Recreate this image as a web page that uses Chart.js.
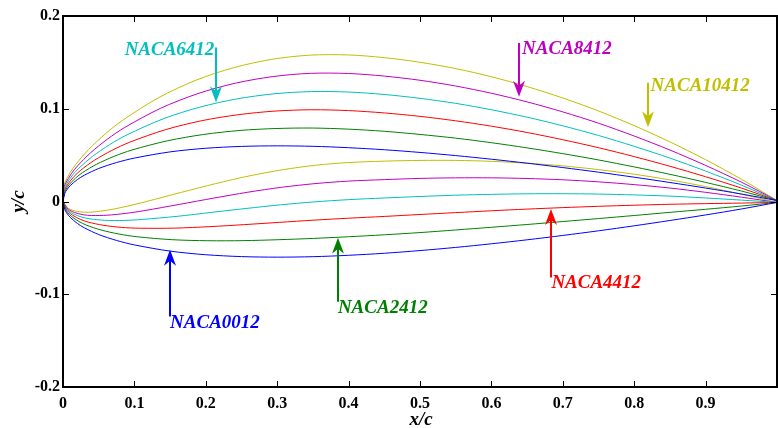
<!DOCTYPE html>
<html><head><meta charset="utf-8">
<script src="https://cdn.jsdelivr.net/npm/chart.js@4/dist/chart.umd.min.js"></script>
<style>html,body{margin:0;padding:0;background:#fff}#wrap{width:778px;height:428px;position:relative}</style>
</head><body><div id="wrap"><canvas id="c" width="778" height="428"></canvas></div>
<script>
// ---- data (x/c, y/c) ----
// aft stations shared by all surfaces
const aftX = [0.4, 0.45, 0.5, 0.55, 0.6, 0.65, 0.7, 0.75, 0.8, 0.85, 0.9, 0.95, 1.0];

const naca0012UpperX = [0, 0.0025, 0.005, 0.01, 0.02, 0.03, 0.05, 0.075, 0.1, 0.15, 0.2, 0.25, 0.3, 0.35];
const naca0012UpperY = [0, 0.0087, 0.0122, 0.0170, 0.0236, 0.0284, 0.0356, 0.0420, 0.0468, 0.0535, 0.0574, 0.0594, 0.0600, 0.0595, 0.0580, 0.0558, 0.0529, 0.0495, 0.0456, 0.0413, 0.0366, 0.0316, 0.0262, 0.0205, 0.0145, 0.0081, 0.001];
const naca0012LowerX = [0, 0.0025, 0.005, 0.01, 0.02, 0.03, 0.05, 0.075, 0.1, 0.15, 0.2, 0.25, 0.3, 0.35];
const naca0012LowerY = [0, -0.0087, -0.0122, -0.0170, -0.0236, -0.0284, -0.0356, -0.0420, -0.0468, -0.0535, -0.0574, -0.0594, -0.0600, -0.0595, -0.0580, -0.0558, -0.0529, -0.0495, -0.0456, -0.0413, -0.0366, -0.0316, -0.0262, -0.0205, -0.0145, -0.0081, -0.001];

const naca2412UpperX = [0, 0.0016, 0.0038, 0.0084, 0.0178, 0.0274, 0.0469, 0.0716, 0.0965, 0.1467, 0.1971, 0.2478, 0.2985, 0.3493];
const naca2412UpperY = [0, 0.0089, 0.0127, 0.0180, 0.0254, 0.0312, 0.0401, 0.0487, 0.0555, 0.0655, 0.0723, 0.0766, 0.0787, 0.0792, 0.0780, 0.0757, 0.0723, 0.0683, 0.0634, 0.0578, 0.0516, 0.0448, 0.0373, 0.0293, 0.0206, 0.0113, 0.001];
const naca2412LowerX = [0, 0.0034, 0.0062, 0.0117, 0.0222, 0.0326, 0.0531, 0.0784, 0.1035, 0.1533, 0.2029, 0.2522, 0.3015, 0.3507];
const naca2412LowerY = [0, -0.0084, -0.0117, -0.0160, -0.0215, -0.0254, -0.0307, -0.0351, -0.0380, -0.0412, -0.0423, -0.0422, -0.0412, -0.0398, -0.0380, -0.0359, -0.0335, -0.0307, -0.0278, -0.0248, -0.0216, -0.0184, -0.0151, -0.0117, -0.0084, -0.0049, -0.001];

const naca4412UpperX = [0, 0.0008, 0.0026, 0.0067, 0.0156, 0.0248, 0.0439, 0.0683, 0.0931, 0.1434, 0.1943, 0.2456, 0.2970, 0.3485];
const naca4412UpperY = [0, 0.0091, 0.0130, 0.0187, 0.0271, 0.0337, 0.0444, 0.0550, 0.0638, 0.0774, 0.0871, 0.0936, 0.0975, 0.0989, 0.0980, 0.0955, 0.0918, 0.0870, 0.0812, 0.0744, 0.0666, 0.0580, 0.0484, 0.0380, 0.0267, 0.0145, 0.001];
const naca4412LowerX = [0, 0.0042, 0.0074, 0.0133, 0.0244, 0.0352, 0.0561, 0.0817, 0.1069, 0.1566, 0.2057, 0.2544, 0.3030, 0.3515];
const naca4412LowerY = [0, -0.0081, -0.0110, -0.0147, -0.0193, -0.0222, -0.0256, -0.0279, -0.0288, -0.0287, -0.0271, -0.0249, -0.0225, -0.0201, -0.0180, -0.0161, -0.0140, -0.0120, -0.0100, -0.0082, -0.0066, -0.0052, -0.0040, -0.0030, -0.0023, -0.0017, -0.001];

const naca6412UpperX = [0, 0.0000, 0.0015, 0.0052, 0.0135, 0.0224, 0.0410, 0.0651, 0.0897, 0.1402, 0.1915, 0.2434, 0.2955, 0.3478];
const naca6412UpperY = [0, 0.0091, 0.0132, 0.0193, 0.0286, 0.0360, 0.0484, 0.0612, 0.0719, 0.0891, 0.1017, 0.1106, 0.1161, 0.1185, 0.1180, 0.1154, 0.1112, 0.1058, 0.0989, 0.0909, 0.0816, 0.0712, 0.0595, 0.0468, 0.0328, 0.0177, 0.001];
const naca6412LowerX = [0, 0.0050, 0.0085, 0.0148, 0.0265, 0.0376, 0.0590, 0.0850, 0.1103, 0.1599, 0.2085, 0.2566, 0.3045, 0.3522];
const naca6412LowerY = [0, -0.0076, -0.0102, -0.0134, -0.0169, -0.0187, -0.0203, -0.0204, -0.0194, -0.0160, -0.0117, -0.0075, -0.0036, -0.0004, 0.0020, 0.0038, 0.0054, 0.0068, 0.0077, 0.0083, 0.0084, 0.0080, 0.0071, 0.0058, 0.0038, 0.0015, -0.001];

const naca8412UpperX = [0, -0.0007, 0.0005, 0.0038, 0.0116, 0.0202, 0.0383, 0.0620, 0.0866, 0.1370, 0.1888, 0.2412, 0.2940, 0.3470];
const naca8412UpperY = [0, 0.0091, 0.0134, 0.0198, 0.0299, 0.0382, 0.0523, 0.0671, 0.0799, 0.1006, 0.1163, 0.1275, 0.1347, 0.1382, 0.1380, 0.1352, 0.1307, 0.1245, 0.1167, 0.1074, 0.0966, 0.0844, 0.0706, 0.0555, 0.0389, 0.0209, 0.001];
const naca8412LowerX = [0, 0.0057, 0.0095, 0.0162, 0.0284, 0.0399, 0.0617, 0.0880, 0.1135, 0.1630, 0.2113, 0.2588, 0.3060, 0.3530];
const naca8412LowerY = [0, -0.0071, -0.0094, -0.0119, -0.0143, -0.0151, -0.0148, -0.0128, -0.0099, -0.0031, 0.0037, 0.0100, 0.0153, 0.0193, 0.0220, 0.0236, 0.0249, 0.0255, 0.0255, 0.0248, 0.0234, 0.0212, 0.0182, 0.0145, 0.0099, 0.0047, -0.001];

const naca10412UpperX = [0, -0.0014, -0.0004, 0.0025, 0.0099, 0.0181, 0.0358, 0.0592, 0.0836, 0.1341, 0.1861, 0.2391, 0.2926, 0.3463];
const naca10412UpperY = [0, 0.0091, 0.0134, 0.0203, 0.0311, 0.0402, 0.0560, 0.0729, 0.0876, 0.1120, 0.1307, 0.1443, 0.1533, 0.1578, 0.1580, 0.1551, 0.1501, 0.1433, 0.1345, 0.1239, 0.1116, 0.0976, 0.0818, 0.0643, 0.0451, 0.0241, 0.001];
const naca10412LowerX = [0, 0.0064, 0.0104, 0.0175, 0.0301, 0.0419, 0.0642, 0.0908, 0.1164, 0.1659, 0.2139, 0.2609, 0.3074, 0.3537];
const naca10412LowerY = [0, -0.0066, -0.0085, -0.0104, -0.0116, -0.0113, -0.0091, -0.0049, -0.0001, 0.0099, 0.0193, 0.0276, 0.0342, 0.0391, 0.0420, 0.0435, 0.0443, 0.0443, 0.0433, 0.0413, 0.0384, 0.0344, 0.0294, 0.0233, 0.0161, 0.0079, -0.001];

const airfoilNames = ['NACA0012', 'NACA2412', 'NACA4412', 'NACA6412', 'NACA8412', 'NACA10412'];
const airfoilColors = ['#0000FF', '#008000', '#FF0000', '#00BFBF', '#BF00BF', '#BFBF00'];
const surfaces = [
  [[naca0012UpperX, naca0012UpperY], [naca0012LowerX, naca0012LowerY]],
  [[naca2412UpperX, naca2412UpperY], [naca2412LowerX, naca2412LowerY]],
  [[naca4412UpperX, naca4412UpperY], [naca4412LowerX, naca4412LowerY]],
  [[naca6412UpperX, naca6412UpperY], [naca6412LowerX, naca6412LowerY]],
  [[naca8412UpperX, naca8412UpperY], [naca8412LowerX, naca8412LowerY]],
  [[naca10412UpperX, naca10412UpperY], [naca10412LowerX, naca10412LowerY]]
];

const xTicks = [0, 0.1, 0.2, 0.3, 0.4, 0.5, 0.6, 0.7, 0.8, 0.9];
const yTicks = [-0.2, -0.1, 0, 0.1, 0.2];

// labels with arrows (data coordinates)
const labelArrows = [
  {i: 3, x: 0.214, y0: 0.166, y1: 0.107, tx: 0.212, ty: 0.158, align: 'right'},
  {i: 4, x: 0.639, y0: 0.171, y1: 0.113, tx: 0.643, ty: 0.159, align: 'left'},
  {i: 5, x: 0.819, y0: 0.128, y1: 0.080, tx: 0.823, ty: 0.119, align: 'left'},
  {i: 0, x: 0.150, y0: -0.124, y1: -0.052, tx: 0.150, ty: -0.1365, align: 'left'},
  {i: 1, x: 0.385, y0: -0.108, y1: -0.039, tx: 0.385, ty: -0.120, align: 'left'},
  {i: 2, x: 0.683, y0: -0.082, y1: -0.008, tx: 0.684, ty: -0.093, align: 'left'}
];

const datasets = [];
airfoilNames.forEach((n, k) => {
  surfaces[k].forEach((s, j) => {
    const xs = s[0].concat(aftX);
    datasets.push({
      label: n + (j ? ' lower' : ' upper'),
      data: xs.map((x, idx) => ({x: x, y: s[1][idx]})),
      showLine: true, borderColor: airfoilColors[k], backgroundColor: airfoilColors[k],
      borderWidth: 1, pointRadius: 0, tension: 0.3, fill: false
    });
  });
});

const FONT = '"Liberation Serif", "Times New Roman", serif';

const framePlugin = {
  id: 'frame',
  afterDraw(chart) {
    const {ctx, chartArea: a, scales: {x, y}} = chart;
    ctx.save();
    ctx.strokeStyle = '#000';
    ctx.lineWidth = 1;
    ctx.beginPath();
    xTicks.concat([1]).forEach(v => {
      const px = Math.round(x.getPixelForValue(v)) + 0.5;
      ctx.moveTo(px, a.bottom); ctx.lineTo(px, a.bottom - 6);
      ctx.moveTo(px, a.top); ctx.lineTo(px, a.top + 6);
    });
    yTicks.forEach(v => {
      const py = Math.round(y.getPixelForValue(v)) + 0.5;
      ctx.moveTo(a.left, py); ctx.lineTo(a.left + 6, py);
      ctx.moveTo(a.right, py); ctx.lineTo(a.right - 6, py);
    });
    ctx.stroke();
    ctx.lineWidth = 2;
    ctx.strokeRect(a.left, a.top, a.right - a.left, a.bottom - a.top);

    labelArrows.forEach(d => {
      const col = airfoilColors[d.i];
      const px = Math.round(x.getPixelForValue(d.x));
      const p0 = y.getPixelForValue(d.y0);
      const p1 = y.getPixelForValue(d.y1);
      const dir = p1 > p0 ? 1 : -1;
      ctx.strokeStyle = col; ctx.fillStyle = col; ctx.lineWidth = 2;
      ctx.beginPath(); ctx.moveTo(px, p0); ctx.lineTo(px, p1 - dir * 8); ctx.stroke();
      ctx.beginPath();
      ctx.moveTo(px, p1);
      ctx.lineTo(px - 6, p1 - dir * 16);
      ctx.lineTo(px, p1 - dir * 11);
      ctx.lineTo(px + 6, p1 - dir * 16);
      ctx.closePath(); ctx.fill();
      ctx.font = 'italic bold 19px ' + FONT;
      ctx.textAlign = d.align; ctx.textBaseline = 'alphabetic';
      ctx.fillText(airfoilNames[d.i], x.getPixelForValue(d.tx), y.getPixelForValue(d.ty));
    });

    ctx.fillStyle = '#000';
    ctx.font = 'italic bold 19px ' + FONT;
    ctx.textAlign = 'center'; ctx.textBaseline = 'middle';
    ctx.fillText('x/c', (a.left + a.right) / 2 + 1, 420);
    ctx.save();
    ctx.translate(19, (a.top + a.bottom) / 2);
    ctx.rotate(-Math.PI / 2);
    ctx.fillText('y/c', 0, 0);
    ctx.restore();
    ctx.restore();
  }
};

new Chart(document.getElementById('c'), {
  type: 'scatter',
  data: {datasets},
  options: {
    responsive: false, animation: false, devicePixelRatio: 1,
    layout: {padding: {top: 16, right: 1, left: 0, bottom: 0}},
    plugins: {legend: {display: false}, tooltip: {enabled: false}},
    scales: {
      x: {
        type: 'linear', min: 0, max: 1,
        grid: {display: false, drawTicks: false}, border: {display: false},
        afterBuildTicks: s => { s.ticks = xTicks.concat([1]).map(v => ({value: v})); },
        ticks: {
          autoSkip: false, maxRotation: 0, padding: 7, color: '#000',
          font: {family: FONT, weight: 'bold', size: 16},
          callback: v => (v >= 0.999 ? '' : String(Math.round(v * 10) / 10))
        },
        afterFit: s => { s.height = 41; s.paddingRight = 0; s.paddingLeft = 0; }
      },
      y: {
        type: 'linear', min: -0.2, max: 0.2,
        grid: {display: false, drawTicks: false}, border: {display: false},
        afterBuildTicks: s => { s.ticks = yTicks.map(v => ({value: v})); },
        ticks: {
          padding: 3, color: '#000',
          font: {family: FONT, weight: 'bold', size: 16},
          callback: v => String(Math.round(v * 10) / 10)
        },
        afterFit: s => { s.width = 63; }
      }
    }
  },
  plugins: [framePlugin]
});
</script>
</body></html>
